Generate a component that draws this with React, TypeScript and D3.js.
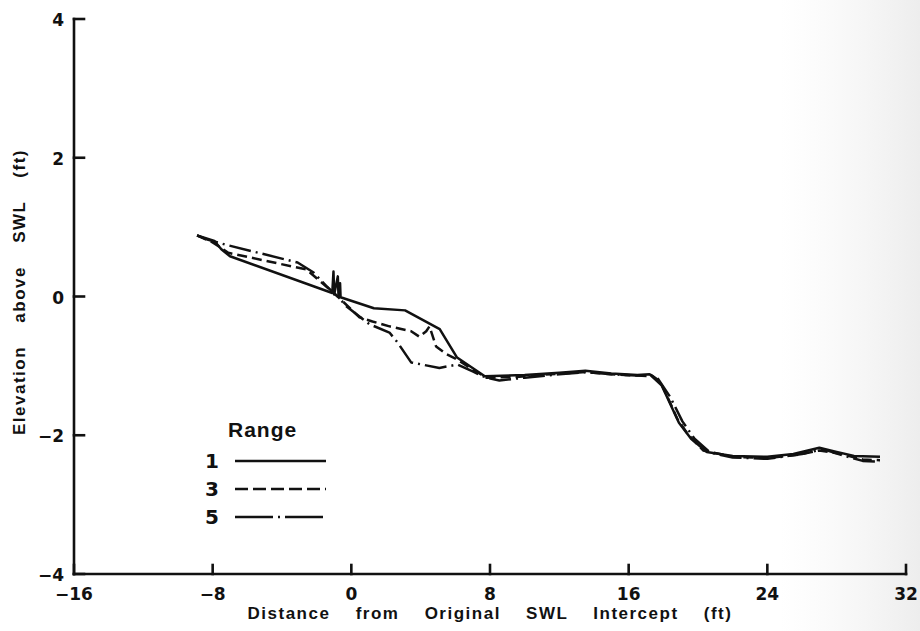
import React from "react";
import * as d3 from "d3";

// Axis ticks
const xTicks = [-16, -8, 0, 8, 16, 24, 32];
const yTicks = [-4, -2, 0, 2, 4];

// Profile for range 1: [distance (ft), elevation (ft)]
const range1: [number, number][] = [
  [-8.9, 0.88], [-7.9, 0.8], [-7.5, 0.68], [-7.0, 0.58], [-1.1, 0.05],
  [-1.03, 0.36], [-0.99, 0.03], [-0.78, 0.29], [-0.74, 0.01], [-0.65, 0.19],
  [-0.62, -0.01], [1.3, -0.17], [3.1, -0.2], [5.1, -0.47], [6.1, -0.88],
  [7.7, -1.15], [10, -1.13], [12, -1.1], [13.5, -1.07], [15, -1.11],
  [16.5, -1.13], [17.2, -1.12], [17.9, -1.28], [18.4, -1.55], [18.9, -1.82],
  [19.6, -2.05], [20.5, -2.24], [22, -2.3], [24, -2.31], [25.5, -2.27],
  [27, -2.18], [28, -2.24], [29, -2.3], [30.5, -2.31],
];

// Profile for range 3
const range3: [number, number][] = [
  [-8.9, 0.88], [-8.0, 0.78], [-7.1, 0.63], [-2.6, 0.39], [-1.0, 0.05],
  [0.47, -0.3], [1.22, -0.36], [2.2, -0.43], [3.45, -0.5], [3.93, -0.58],
  [4.32, -0.5], [4.51, -0.43], [4.89, -0.72], [5.47, -0.83], [6.12, -0.91],
  [6.8, -1.02], [7.8, -1.17], [9.5, -1.16], [11.5, -1.12], [13.5, -1.09],
  [15, -1.12], [16.4, -1.14], [17.3, -1.13], [17.8, -1.22], [18.3, -1.48],
  [18.8, -1.76], [19.4, -1.98], [20.3, -2.22], [22, -2.31], [24, -2.33],
  [25.8, -2.28], [27, -2.22], [28.3, -2.27], [29.5, -2.35], [30.5, -2.36],
];

// Profile for range 5
const range5: [number, number][] = [
  [-8.9, 0.88], [-8.3, 0.82], [-7.3, 0.75], [-3.1, 0.49], [-2.2, 0.35],
  [-1.4, 0.14], [-0.7, -0.02], [-0.29, -0.14], [1.05, -0.4], [2.2, -0.52],
  [2.66, -0.66], [3.45, -0.95], [5.08, -1.03], [6.12, -0.98], [7.0, -1.08],
  [7.77, -1.17], [8.54, -1.21], [10, -1.17], [12, -1.12], [13.5, -1.09],
  [15, -1.12], [16.5, -1.14], [17.6, -1.15], [18.4, -1.45], [19.1, -1.8],
  [19.8, -2.05], [20.7, -2.25], [22, -2.32], [24, -2.34], [26, -2.27],
  [27.2, -2.2], [28.5, -2.3], [29.5, -2.37], [30.5, -2.38],
];

const seriesLabels = ["1", "3", "5"];
const seriesData = [range1, range3, range5];
const seriesDash = ["none", "10,5", "22,5,2,5"];

const W = 920;
const H = 631;
const INK = "#111";
const NUM_FONT = "'DejaVu Sans', sans-serif";
const TEXT_FONT = "'Liberation Sans', Arial, sans-serif";

export default function App() {
  const x = d3.scaleLinear().domain([-16, 32]).range([74, 906]);
  const y = d3.scaleLinear().domain([-4, 4]).range([574, 19]);
  const line = d3
    .line<[number, number]>()
    .x((d) => x(d[0]))
    .y((d) => y(d[1]));

  const fmt = (v: number) => (v < 0 ? "\u2212" + Math.abs(v) : String(v));

  const legendX0 = 235;
  const legendX1 = 326;
  const legendY = [461, 489, 517];

  return (
    <div style={{ position: "absolute", left: 0, top: 0 }}>
      <svg width={W} height={H} style={{ display: "block", background: "#fff" }}>
        <defs>
          <linearGradient id="edgeShade" x1="0" x2="1" y1="0" y2="0">
            <stop offset="0" stopColor="#f4f4f4" stopOpacity={0} />
            <stop offset="1" stopColor="#ededed" stopOpacity={1} />
          </linearGradient>
        </defs>
        <rect x={780} y={0} width={140} height={H} fill="url(#edgeShade)" />

        {/* axes */}
        <g stroke={INK} strokeWidth={2.6} fill="none" strokeLinecap="square">
          <line x1={x(-16)} y1={y(4)} x2={x(-16)} y2={y(-4)} />
          <line x1={x(-16)} y1={y(-4)} x2={x(32)} y2={y(-4)} />
          {yTicks.map((t) => (
            <line key={"yt" + t} x1={x(-16)} x2={x(-16) + 10} y1={y(t)} y2={y(t)} />
          ))}
          {xTicks.map((t) => (
            <line key={"xt" + t} x1={x(t)} x2={x(t)} y1={y(-4)} y2={y(-4) - 9} />
          ))}
        </g>

        {/* tick labels */}
        <g fill={INK} fontFamily={NUM_FONT} fontWeight="bold" fontSize={17}>
          {yTicks.map((t) => (
            <text key={"yl" + t} x={64} y={y(t) + 1} textAnchor="end" dominantBaseline="central">
              {fmt(t)}
            </text>
          ))}
          {xTicks.map((t) => (
            <text key={"xl" + t} x={x(t)} y={600} textAnchor="middle">
              {fmt(t)}
            </text>
          ))}
        </g>

        {/* axis titles */}
        <text
          x={490}
          y={619}
          textAnchor="middle"
          fontFamily={TEXT_FONT}
          fontWeight="bold"
          fontSize={17}
          letterSpacing={1.5}
          wordSpacing={19}
          fill={INK}
        >
          Distance from Original SWL Intercept (ft)
        </text>
        <text
          transform={`translate(25,292) rotate(-90)`}
          textAnchor="middle"
          fontFamily={TEXT_FONT}
          fontWeight="bold"
          fontSize={17}
          letterSpacing={1.5}
          wordSpacing={17}
          fill={INK}
        >
          Elevation above SWL (ft)
        </text>

        {/* profiles */}
        <g fill="none" stroke={INK} strokeWidth={2.5} strokeLinejoin="round">
          {seriesData.map((d, i) => (
            <path key={"s" + i} d={line(d) || ""} strokeDasharray={seriesDash[i]} />
          ))}
        </g>

        {/* legend */}
        <text
          x={228}
          y={437}
          fontFamily={TEXT_FONT}
          fontWeight="bold"
          fontSize={21}
          letterSpacing={1}
          fill={INK}
        >
          Range
        </text>
        {seriesLabels.map((lab, i) => (
          <g key={"lg" + i}>
            <text
              x={212}
              y={legendY[i] + 7}
              textAnchor="middle"
              fontFamily={NUM_FONT}
              fontWeight="bold"
              fontSize={20}
              fill={INK}
            >
              {lab}
            </text>
            <line
              x1={legendX0}
              x2={legendX1}
              y1={legendY[i]}
              y2={legendY[i]}
              stroke={INK}
              strokeWidth={2.5}
              strokeDasharray={i === 1 ? "13,5" : i === 2 ? "38,5,2,5" : "none"}
            />
          </g>
        ))}
      </svg>
    </div>
  );
}
